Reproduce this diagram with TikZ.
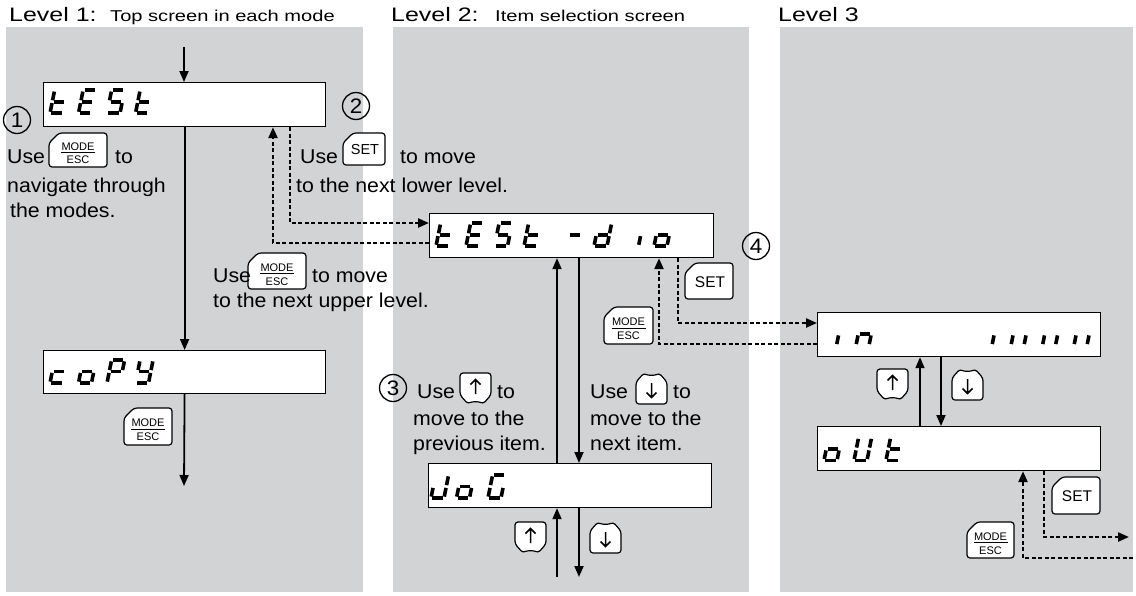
\documentclass[tikz,border=0pt]{standalone}
\usepackage{fontspec}
\setmainfont{Liberation Sans}[FakeStretch=1.065]
\newfontfamily\titlefont{Liberation Sans}[FakeStretch=1.28]
\newfontfamily\keyfont{Liberation Sans}
\usetikzlibrary{arrows.meta,calc}
\definecolor{panelgray}{RGB}{209,211,213}
\tikzset{
  disp/.style={draw, fill=white, line width=1.2pt, inner sep=0pt, anchor=north west},
  arr/.style={line width=1.8pt, -{Triangle[length=11pt,width=9pt]}},
  dotarr/.style={line width=2.3pt, dash pattern=on 3.8pt off 2.7pt, -{Triangle[length=11pt,width=9pt]}},
  seg/.style={line width=3.6pt},
  keybox/.style={draw, fill=white, line width=1.2pt, rounded corners=3pt},
  keylab/.style={inner sep=0pt},
  arrowglyph/.style={line width=1.5pt},
  txt/.style={anchor=base west, inner sep=0pt, font=\fontsize{20}{24}\selectfont},
  ttl/.style={anchor=base west, inner sep=0pt, font=\titlefont\fontsize{19.5}{22}\selectfont},
  ttlsmall/.style={anchor=base west, inner sep=0pt, font=\titlefont\fontsize{15.7}{18}\selectfont},
  num/.style={circle, draw, line width=1.3pt, minimum size=27pt, inner sep=0pt, font=\fontsize{21}{22}\selectfont},
}
% seven-segment pieces (local units: v up), w=13, h=23
\newcommand\SGa{\draw[seg] (1.4,23)--(11.6,23);}
\newcommand\SGb{\draw[seg] (13,21.6)--(13,12.9);}
\newcommand\SGc{\draw[seg] (13,10.1)--(13,1.4);}
\newcommand\SGd{\draw[seg] (1.4,0)--(11.6,0);}
\newcommand\SGe{\draw[seg] (0,1.4)--(0,10.1);}
\newcommand\SGf{\draw[seg] (0,12.9)--(0,21.6);}
\newcommand\SGg{\draw[seg] (1.4,11.5)--(11.6,11.5);}
\newcommand\Dig[3]{\begin{scope}[shift={(#1,#2)},xslant=0.2,yscale=-1]#3\end{scope}}
% keys
\newcommand\ModeKey[6]{%
  \begin{scope}[shift={(#1,#2)}]
    \draw[keybox] (0,10) -- (10,0) -- (#3,0) -- (#3,#4) -- (0,#4) -- cycle;
    \node[keylab, font=\keyfont\fontsize{#6}{#6}\selectfont] (#5m) at (#3/2,0.4*#4) {MODE};
    \draw[line width=0.9pt] (#3/2-17,0.57*#4) -- (#3/2+17,0.57*#4);
    \node[keylab, font=\keyfont\fontsize{#6}{#6}\selectfont] (#5e) at (#3/2,0.785*#4) {ESC};
  \end{scope}}
\newcommand\SetKey[6]{%
  \begin{scope}[shift={(#1,#2)}]
    \draw[keybox] (0,10) -- (10,0) -- (#3,0) -- (#3,#4) -- (0,#4) -- cycle;
    \node[keylab, font=\keyfont\fontsize{#6}{#6}\selectfont] (#5) at (#3/2+1,#4/2+1) {SET};
  \end{scope}}
\newcommand\UpKey[3]{%
  \begin{scope}[shift={(#1,#2)}]
    \draw[keybox] (0,22) -- (0,0) -- (31,0) -- (31,22) -- (23,31) .. controls (19,28.5) and (12,28.5) .. (8,31) -- cycle;
    \draw[arrowglyph] (15.5,21) -- (15.5,6.5) (10.5,11.5) -- (15.5,6.5) -- (20.5,11.5);
    \coordinate (#3) at (15.5,15.5);
  \end{scope}}
\newcommand\DownKey[3]{%
  \begin{scope}[shift={(#1,#2)}]
    \draw[keybox] (0,9) -- (8,0) .. controls (12,2.5) and (19,2.5) .. (23,0) -- (31,9) -- (31,31) -- (0,31) -- cycle;
    \draw[arrowglyph] (15.5,10) -- (15.5,24.5) (10.5,19.5) -- (15.5,24.5) -- (20.5,19.5);
    \coordinate (#3) at (15.5,15.5);
  \end{scope}}
\begin{document}
\begin{tikzpicture}[x=1pt,y=-1pt]
\useasboundingbox (0,0) rectangle (1136,595);
% panels
\fill[panelgray] (6,27) rectangle (363,592);
\fill[panelgray] (393,27) rectangle (749,592);
\fill[panelgray] (780,27) rectangle (1133,592);
% titles
\node[ttl] (l1) at (9,21) {Level 1:};
\node[ttlsmall] (l1s) at (110,21) {Top screen in each mode};
\node[ttl] (l2) at (391,21) {Level 2:};
\node[ttlsmall] (l2s) at (495,21) {Item selection screen};
\node[ttl] (l3) at (778,21) {Level 3};
% displays
\node[disp, minimum width=282pt, minimum height=44pt] (test) at (43,82) {};
\node[disp, minimum width=282pt, minimum height=43pt] (copy) at (43,350) {};
\node[disp, minimum width=284pt, minimum height=44pt] (testdio) at (429,213) {};
\node[disp, minimum width=283pt, minimum height=44pt] (jog) at (428,463) {};
\node[disp, minimum width=283pt, minimum height=44pt] (inbox) at (817,312) {};
\node[disp, minimum width=283pt, minimum height=44pt] (outbox) at (817,426) {};
% display characters
% tESt
\Dig{50}{113.2}{\SGf\SGe\SGg\SGd}
\Dig{78.5}{113.2}{\SGa\SGf\SGg\SGe\SGd}
\Dig{107}{113.2}{\SGa\SGf\SGg\SGc\SGd}
\Dig{135.5}{113.2}{\SGf\SGe\SGg\SGd}
% coPY
\Dig{50}{383}{\SGg\SGe\SGd}
\Dig{78.5}{383}{\SGg\SGc\SGd\SGe}
\Dig{107}{383}{\SGa\SGb\SGf\SGg\SGe}
\Dig{135.5}{383}{\SGf\SGb\SGg\SGc\SGd}
% tESt-dio
\Dig{436}{246.2}{\SGf\SGe\SGg\SGd}
\Dig{466}{246.2}{\SGa\SGf\SGg\SGe\SGd}
\Dig{494.5}{246.2}{\SGa\SGf\SGg\SGc\SGd}
\Dig{524}{246.2}{\SGf\SGe\SGg\SGd}
\Dig{566}{246.2}{\SGg}
\Dig{594}{246.2}{\SGb\SGc\SGg\SGe\SGd}
\Dig{625.5}{246.2}{\SGc}
\Dig{654}{246.2}{\SGg\SGc\SGd\SGe}
% JoG
\Dig{431}{498}{\SGb\SGc\SGd\SGe}
\Dig{456.5}{498}{\SGg\SGc\SGd\SGe}
\Dig{488}{498}{\SGa\SGf\SGe\SGd\SGc}
% in  ||||||
\Dig{823.5}{345.5}{\SGc}
\Dig{856}{345.5}{\SGe\SGg\SGc}
\Dig{979}{345.5}{\SGc}
\Dig{1011}{345.5}{\SGe\SGc}
\Dig{1042.5}{345.5}{\SGe\SGc}
\Dig{1074}{345.5}{\SGe\SGc}
% oUt
\Dig{824}{460.5}{\SGg\SGc\SGd\SGe}
\Dig{854}{460.5}{\SGf\SGe\SGd\SGc\SGb}
\Dig{886}{460.5}{\SGf\SGe\SGg\SGd}
% solid connectors
\coordinate (top1) at (184,47);
\draw[arr] (top1) -- (top1 |- test.north);
\draw[arr] (test.south) -- (copy.north);
\coordinate (bot1) at (184,486);
\draw[arr] (copy.south) -- (bot1);
\coordinate (u1) at (557,0);
\coordinate (d1) at (579,0);
\draw[arr] (jog.north -| u1) -- (testdio.south -| u1);
\draw[arr] (testdio.south -| d1) -- (jog.north -| d1);
\coordinate (u2) at (557,577);
\coordinate (d2) at (579,577);
\draw[arr] (u2) -- (u2 |- jog.south);
\draw[arr] (d2 |- jog.south) -- (d2);
\coordinate (u3) at (920,0);
\coordinate (d3) at (941,0);
\draw[arr] (outbox.north -| u3) -- (inbox.south -| u3);
\draw[arr] (inbox.south -| d3) -- (outbox.north -| d3);
% dotted connectors
\coordinate (s1) at (290,223);
\draw[dotarr] (test.south -| s1) -- (s1) -- (s1 -| testdio.west);
\coordinate (m1) at (273,243);
\draw[dotarr] (m1 -| testdio.west) -- (m1) -- (m1 |- test.south);
\coordinate (s2) at (678,323);
\draw[dotarr] (testdio.south -| s2) -- (s2) -- (s2 -| inbox.west);
\coordinate (m2) at (659,344);
\draw[dotarr] (m2 -| inbox.west) -- (m2) -- (m2 |- testdio.south);
\coordinate (s3) at (1044,537);
\coordinate (s3e) at (1129,537);
\draw[dotarr] (outbox.south -| s3) -- (s3) -- (s3e);
\coordinate (m3) at (1023,558);
\coordinate (m3s) at (1133,558);
\draw[dotarr] (m3s) -- (m3) -- (m3 |- outbox.south);
% keys
\ModeKey{124}{408}{48}{37}{ka}{11}
\ModeKey{49}{133}{58}{34}{kb}{11}
\ModeKey{248}{253}{58}{36}{kc}{11}
\ModeKey{604}{307}{49}{37}{kd}{11}
\ModeKey{967}{522}{47}{36}{ke}{11}
\SetKey{343}{133}{42}{32}{kf}{14.5}
\SetKey{685}{263}{48}{36}{kg}{15.5}
\SetKey{1052}{477}{48}{37}{kh}{15.5}
\UpKey{460}{373}{ki}
\DownKey{636}{373}{kj}
\UpKey{515}{522}{kk}
\DownKey{590}{522}{kl}
\UpKey{877}{369}{km}
\DownKey{952}{369}{kn}
% circled numbers
\node[num] (n1) at (17,120) {1};
\node[num] (n2) at (356,106) {2};
\node[num] (n3) at (393,388) {3};
\node[num] (n4) at (756,246) {4};
% texts
\node[txt] (a1) at (7,163) {Use};
\node[txt] (a2) at (115,163) {to};
\node[txt] (a3) at (7,192) {navigate through};
\node[txt] (a4) at (10,217) {the modes.};
\node[txt] (b1) at (300,163) {Use};
\node[txt] (b2) at (400,163) {to move};
\node[txt] (b3) at (296,192) {to the next lower level.};
\node[txt] (c1) at (213,282) {Use};
\node[txt] (c2) at (312,282) {to move};
\node[txt] (c3) at (213,307) {to the next upper level.};
\node[txt] (e1) at (417,398) {Use};
\node[txt] (e2) at (497,398) {to};
\node[txt] (e3) at (413,425) {move to the};
\node[txt] (e4) at (413,450) {previous item.};
\node[txt] (f1) at (590,398) {Use};
\node[txt] (f2) at (673,398) {to};
\node[txt] (f3) at (590,425) {move to the};
\node[txt] (f4) at (590,450) {next item.};
\end{tikzpicture}
\end{document}
